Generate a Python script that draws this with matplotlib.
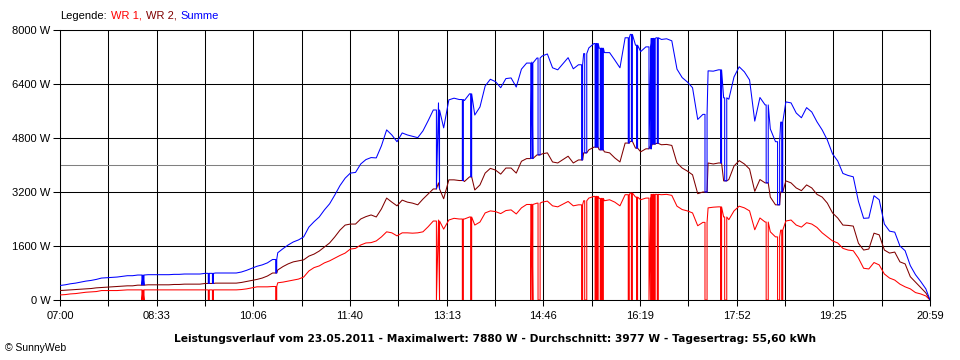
import numpy as np
import matplotlib
matplotlib.use("Agg")
import matplotlib.pyplot as plt

plt.rcParams['font.family'] = ['Liberation Sans', 'DejaVu Sans']

# --- Daten: Minuten ab 07:00, Leistung in W ---
zeit = list(range(0, 836, 5)) + [839]

wr1 = [150, 160, 180, 190, 210, 230, 240, 250, 280, 280,
       280, 280, 290, 300, 300, 300, 300, 300, 300, 300,
       300, 300, 300, 300, 300, 300, 300, 300, 300, 300,
       300, 300, 300, 300, 300, 310, 330, 360, 390, 390,
       390, 400, 510, 530, 560, 590, 620, 680, 860, 960,
       1010, 1100, 1160, 1240, 1320, 1390, 1510, 1530, 1630, 1690,
       1700, 1750, 1870, 2020, 1990, 1900, 1990, 1990, 1980, 1990,
       2020, 2170, 2340, 2370, 2100, 2370, 2420, 2400, 2400, 2460,
       2220, 2310, 2580, 2640, 2620, 2560, 2650, 2670, 2550, 2730,
       2830, 2840, 2870, 2900, 2930, 2790, 2760, 2840, 2920, 2790,
       2820, 2940, 3020, 3070, 3010, 2940, 2970, 2900, 2790, 3120,
       3170, 3050, 2970, 3020, 3130, 3130, 3120, 3130, 3100, 2780,
       2680, 2640, 2580, 2200, 2300, 2730, 2750, 2760, 2460, 2380,
       2640, 2780, 2730, 2640, 2080, 2430, 2310, 2020, 1870, 2070,
       2340, 2370, 2220, 2160, 2290, 2250, 2150, 1990, 1870, 1750,
       1690, 1530, 1480, 1460, 1240, 940, 920, 1110, 1040, 770,
       650, 590, 470, 390, 330, 220, 180, 120, 0]

wr2 = [280, 290, 300, 310, 320, 330, 340, 360, 370, 380,
       390, 400, 410, 420, 420, 440, 440, 450, 450, 450,
       450, 450, 460, 460, 470, 470, 470, 470, 490, 490,
       500, 500, 500, 500, 500, 520, 550, 580, 610, 650,
       710, 800, 890, 990, 1070, 1130, 1160, 1190, 1300, 1360,
       1450, 1570, 1690, 1870, 2070, 2220, 2250, 2250, 2400, 2470,
       2520, 2460, 2700, 3020, 2900, 2790, 2960, 2900, 2870, 2820,
       2990, 3140, 3290, 3470, 3000, 3560, 3560, 3540, 3510, 3650,
       3260, 3410, 3760, 3900, 3850, 3730, 3910, 3910, 3760, 4110,
       4190, 4210, 4300, 4330, 4360, 4090, 4060, 4160, 4260, 4060,
       4150, 4360, 4450, 4530, 4450, 4390, 4360, 4210, 4090, 4650,
       4700, 4500, 4390, 4480, 4620, 4640, 4600, 4610, 4580, 4060,
       3910, 3820, 3710, 3150, 3200, 4060, 4030, 4060, 3530, 3570,
       3970, 4130, 4030, 3880, 3220, 3570, 3470, 3050, 2820, 3200,
       3530, 3470, 3320, 3240, 3410, 3320, 3130, 3050, 2870, 2580,
       2430, 2220, 2210, 2190, 1680, 1480, 1510, 1980, 1930, 1480,
       1390, 1420, 1130, 1070, 690, 530, 370, 210, 0]

# Ausfaelle WR 1 (Leistung 0)
ausfall = [("08:19", "08:21"), ("09:23", "09:24"), ("09:27", "09:28"),
           ("10:28", "10:29"), ("13:03", "13:06"), ("13:28", "13:29"),
           ("13:36", "13:37"), ("14:34", "14:36"), ("14:41", "14:43"),
           ("15:23", "15:24"), ("15:26", "15:28"), ("15:36", "15:37"),
           ("15:38", "15:39"), ("15:41", "15:42"), ("15:43", "15:44"),
           ("16:08", "16:09"), ("16:11", "16:12"), ("16:16", "16:17"),
           ("16:28", "16:30"), ("16:31", "16:32"), ("16:33", "16:34"),
           ("16:36", "16:37"), ("17:22", "17:24"), ("17:37", "17:38"),
           ("17:41", "17:43"), ("18:21", "18:23"), ("18:32", "18:34"),
           ("18:36", "18:37")]

x_labels = ["07:00", "08:33", "10:06", "11:40", "13:13",
            "14:46", "16:19", "17:52", "19:25", "20:59"]
y_ticks = [0, 1600, 3200, 4800, 6400, 8000]

titel = ("Leistungsverlauf vom 23.05.2011 - Maximalwert: 7880 W - "
         "Durchschnitt: 3977 W - Tagesertrag: 55,60 kWh")


def minuten(s):
    h, m = s.split(":")
    return (int(h) - 7) * 60 + int(m)


# Ausfaelle in die Reihe einfuegen (Wert vor dem Ausfall wird gehalten)
punkte = list(zip(zeit, wr1, wr2))
for a, b in ausfall:
    s, e = minuten(a), minuten(b)
    i = int(np.searchsorted(zeit, s, side='right')) - 1
    h1, h2 = wr1[i], wr2[i]
    punkte += [(s, h1, h2), (s, 0, h2), (e, 0, h2), (e, h1, h2)]
punkte.sort(key=lambda p: p[0])
t = np.array([p[0] for p in punkte])
p1 = np.array([p[1] for p in punkte])
p2 = np.array([p[2] for p in punkte])
summe = p1 + p2

fig = plt.figure(figsize=(9.6, 3.6), dpi=100)
ax = fig.add_axes([60 / 960, 60 / 360, 870 / 960, 270 / 360])

lw = 0.75
ax.plot(t, p1, color='#ff0000', lw=lw, zorder=3)
ax.plot(t, p2, color='#800000', lw=lw, zorder=3)
ax.plot(t, summe, color='#0000ff', lw=lw, zorder=4)

ax.set_xlim(0, 839)
ax.set_ylim(0, 8000)
ax.set_xticks(np.linspace(0, 839, 10))
ax.set_xticks(np.linspace(0, 839, 19), minor=True)
ax.set_xticklabels(x_labels)
ax.set_yticks(y_ticks)
ax.set_yticklabels([f"{v} W" for v in y_ticks])

ax.grid(which='both', axis='x', color='black', lw=lw)
ax.grid(which='major', axis='y', color='black', lw=lw)
ax.axhline(4000, color='#808080', lw=lw, zorder=1)
ax.set_axisbelow(True)

for sp in ax.spines.values():
    sp.set_linewidth(lw)
    sp.set_color('black')

ax.tick_params(axis='x', which='both', direction='out', length=4, width=lw,
               pad=4, labelsize=8)
ax.tick_params(axis='y', which='major', direction='out', length=5, width=lw,
               pad=2, labelsize=8)

# Legende oben links
fig.canvas.draw()
r = fig.canvas.get_renderer()
x = 60
for txt, col in [("Legende:", 'black'), ("WR 1,", '#ff0000'),
                 ("WR 2,", '#800000'), ("Summe", '#0000ff')]:
    tt = fig.text(x / 960, 1 - 16 / 360, txt, color=col, fontsize=8, va='center')
    x = tt.get_window_extent(r).x1 + 4

fig.text(495 / 960, 1 - 339 / 360, titel, fontsize=7.7, fontweight='bold',
         family='DejaVu Sans', ha='center', va='center')
fig.text(5 / 960, 1 - 348 / 360, "\u00a9 SunnyWeb", fontsize=7.5, va='center')

fig.savefig('out.png', dpi=100)
